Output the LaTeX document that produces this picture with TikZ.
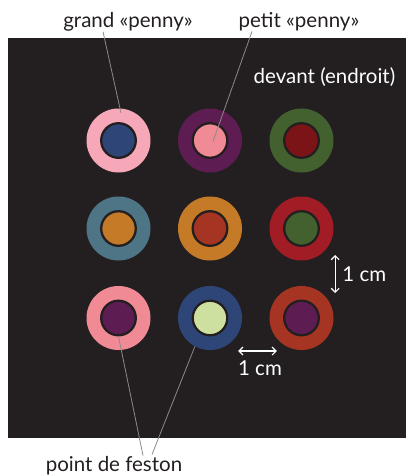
\documentclass[tikz,border=0pt]{standalone}
\usepackage{fontspec}
\setmainfont{Lato}
\usepackage{tikz}
\usetikzlibrary{arrows.meta,calc,positioning}
\definecolor{boardblack}{HTML}{231F20}
\definecolor{leadergray}{HTML}{8A8A8A}
\definecolor{pennypink}{HTML}{F7A8B8}
\definecolor{pennyrose}{HTML}{F08A94}
\definecolor{pennynavy}{HTML}{2E4677}
\definecolor{pennyplum}{HTML}{5E1D52}
\definecolor{pennymoss}{HTML}{43612F}
\definecolor{pennywine}{HTML}{7A1416}
\definecolor{pennyteal}{HTML}{4D7585}
\definecolor{pennyochre}{HTML}{C47A27}
\definecolor{pennyrust}{HTML}{A53522}
\definecolor{pennyred}{HTML}{A11C24}
\definecolor{pennylime}{HTML}{CDE0A0}

\begin{document}
\begin{tikzpicture}[
  x=1pt,
  y=-1pt,
  font=\fontsize{20.5}{24}\selectfont,
  bigpenny/.style={circle, minimum size=64pt, inner sep=0pt, draw=none},
  smallpenny/.style={circle, minimum size=34.6pt, inner sep=0pt,
    draw=boardblack, line width=2.3pt},
  label/.style={inner sep=0pt, text=boardblack},
  whitelabel/.style={inner sep=0pt, text=white},
  leader/.style={draw=leadergray, line width=0.8pt},
  dim/.style={{Straight Barb[length=4pt,width=8pt]}-{Straight Barb[length=4pt,width=8pt]},
    draw=white, line width=1.1pt}
]
\useasboundingbox (0,0) rectangle (407,475);

% board
\fill[boardblack] (8,38) rectangle (406,438);

% row 1
\node[bigpenny, fill=pennypink] (p11) at (118.5,140.5) {};
\node[smallpenny, fill=pennynavy] (c11) at (p11) {};
\node[bigpenny, fill=pennyplum] (p12) at (210,140.5) {};
\node[smallpenny, fill=pennyrose] (c12) at (p12) {};
\node[bigpenny, fill=pennymoss] (p13) at (301.5,140.5) {};
\node[smallpenny, fill=pennywine] (c13) at (p13) {};

% row 2
\node[bigpenny, fill=pennyteal] (p21) at (118.5,228.5) {};
\node[smallpenny, fill=pennyochre] (c21) at (p21) {};
\node[bigpenny, fill=pennyochre] (p22) at (210,228.5) {};
\node[smallpenny, fill=pennyrust] (c22) at (p22) {};
\node[bigpenny, fill=pennyred] (p23) at (301.5,228.5) {};
\node[smallpenny, fill=pennymoss] (c23) at (p23) {};

% row 3
\node[bigpenny, fill=pennyrose] (p31) at (118.5,318) {};
\node[smallpenny, fill=pennyplum] (c31) at (p31) {};
\node[bigpenny, fill=pennynavy] (p32) at (210,318) {};
\node[smallpenny, fill=pennylime] (c32) at (p32) {};
\node[bigpenny, fill=pennyrust] (p33) at (301.5,318) {};
\node[smallpenny, fill=pennyplum] (c33) at (p33) {};

% labels
\node[label] (grandlbl) at (128,22) {grand «penny»};
\node[label] (petitlbl) at (299,22) {petit «penny»};
\node[whitelabel] (devantlbl) at (324.5,77) {devant (endroit)};
\node[label] (festonlbl) at (114,466) {point de feston};

% leaders
\coordinate (grandtip) at (121,113);
\draw[leader] ($(grandlbl.south)+(-25,0)$) -- (grandtip);
\draw[leader] ($(petitlbl.south)+(-47,0)$) -- ($(c12)+(3,1)$);
\draw[leader] (c31.south) -- ($(festonlbl.north)+(29,-1)$);
\draw[leader] (p32.242) -- ($(festonlbl.north)+(38,-2)$);

% dimensions
\coordinate (vtop) at ($(p23.east)+(1.5,26.5)$);
\coordinate (vbot) at ($(p33.east)+(1.5,-25)$);
\draw[dim] (vtop) -- (vbot);
\node[whitelabel, anchor=west] (vdimlbl) at ($(vtop)!0.5!(vbot)+(7,0)$) {1 cm};
\coordinate (hleft) at ($(p32.east)+(-4,33)$);
\coordinate (hright) at ($(p33.west)+(7.5,33)$);
\draw[dim] (hleft) -- (hright);
\node[whitelabel] (hdimlbl) at (260,368) {1 cm};
\end{tikzpicture}
\end{document}
